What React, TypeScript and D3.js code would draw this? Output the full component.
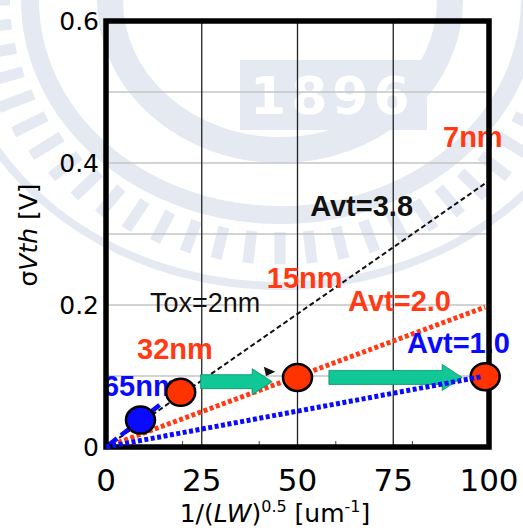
import React from 'react';
import * as d3 from 'd3';

// data
const nodeNames = ['65nm', '32nm', '15nm', '7nm'];
const nodeX = [9, 19.5, 50, 99];
const nodeY = [0.038, 0.077, 0.098, 0.099];

const avtNames = ['Avt=3.8', 'Avt=2.0', 'Avt=1.0'];
const avtEndX = [100, 99, 98];
const avtEndY = [0.375, 0.197, 0.099];

const xTicks = [0, 25, 50, 75, 100];
const xMinor = [20, 40, 60, 80];
const yTicks = [0, 0.2, 0.4, 0.6];
const yGrid = [0.1, 0.2, 0.3, 0.4, 0.5];

// annotations: [text, x, y] in data units (left edge, baseline)
const labels = [
  ['7nm', 88, 0.4225],
  ['Avt=3.8', 53.3, 0.325],
  ['15nm', 42, 0.224],
  ['Avt=2.0', 63.2, 0.1915],
  ['Avt=1.0', 78.6, 0.132],
  ['Tox=2nm', 11.5, 0.19],
  ['32nm', 8.1, 0.124],
  ['65nm', -0.8, 0.072],
];
// scaling arrows: [fromX, toX, y]
const arrows = [
  [24.7, 43.4, 0.092],
  [58.2, 93, 0.098],
];

const RED = '#ff3a14';
const BLUE = '#0a0aff';
const TEAL = '#10c896';
const WM = '#e4e9f2';

const labelColor: Record<string, string> = {
  '7nm': RED, '15nm': RED, '32nm': RED, 'Avt=2.0': RED,
  '65nm': BLUE, 'Avt=1.0': BLUE,
  'Avt=3.8': '#111', 'Tox=2nm': '#111',
};

const W = 523;
const H = 531;

const x = d3.scaleLinear().domain([0, 100]).range([106, 489]);
const y = d3.scaleLinear().domain([0, 0.6]).range([447, 21]);

// faint university emblem behind the chart
function Watermark() {
  const cx = 280, cy = 0, rx = 250, ry = 215;
  const spokes = d3.range(0, 360, 6);
  return (
    <g fill="none" stroke={WM}>
      <ellipse cx={cx} cy={cy} rx={170} ry={150} strokeWidth={26} />
      <ellipse cx={cx} cy={cy} rx={rx} ry={ry} strokeWidth={18} />
      <ellipse cx={cx} cy={cy} rx={rx * 1.33} ry={ry * 1.33} strokeWidth={8} />
      {spokes.map((a) => {
        const t = (a * Math.PI) / 180;
        return (
          <line key={a} x1={cx + rx * 1.08 * Math.cos(t)} y1={cy + ry * 1.08 * Math.sin(t)}
            x2={cx + rx * 1.23 * Math.cos(t)} y2={cy + ry * 1.23 * Math.sin(t)} strokeWidth={11} />
        );
      })}
      <rect x={240} y={60} width={187} height={70} fill={WM} stroke="none" />
      <text x={250} y={114} fill="#fff" stroke="none" fontFamily="DejaVu Sans" fontWeight="bold"
        fontSize={52} letterSpacing={5}>1896</text>
    </g>
  );
}

function Arrow({ x0, x1, yy }: { x0: number; x1: number; yy: number }) {
  const a = x(x0), b = x(x1), c = y(yy);
  const head = 20;
  const p = d3.path();
  p.moveTo(a, c - 7);
  p.lineTo(b - head, c - 7);
  p.lineTo(b - head, c - 13);
  p.lineTo(b, c);
  p.lineTo(b - head, c + 13);
  p.lineTo(b - head, c + 7);
  p.lineTo(a, c + 7);
  p.closePath();
  return <path d={p.toString()} fill={TEAL} stroke="#0a8a66" strokeWidth={0.8} />;
}

export default function App() {
  const tickFont = 'DejaVu Sans, Verdana, sans-serif';
  const labelFont = 'Liberation Sans, Arial, sans-serif';
  return (
    <svg width={W} height={H} style={{ position: 'absolute', left: 0, top: 0, background: '#fff' }}>
      <Watermark />

      {/* grid */}
      {yGrid.map((v) => (
        <line key={v} x1={x(0)} x2={x(100)} y1={y(v)} y2={y(v)} stroke="#c4c4c4" strokeWidth={1.5} />
      ))}
      {xTicks.slice(1, -1).map((v) => (
        <line key={v} x1={x(v)} x2={x(v)} y1={y(0)} y2={y(0.6)} stroke="#222" strokeWidth={1.3} />
      ))}
      {xMinor.map((v) => (
        <line key={v} x1={x(v)} x2={x(v)} y1={y(0)} y2={y(0) - 6} stroke="#444" strokeWidth={1} />
      ))}

      {/* Avt lines */}
      <line x1={x(0)} y1={y(0)} x2={x(avtEndX[1])} y2={y(avtEndY[1])} stroke={RED} strokeWidth={5} strokeDasharray="4 2.5" />
      <line x1={x(0)} y1={y(0)} x2={x(avtEndX[0])} y2={y(avtEndY[0])} stroke="#111" strokeWidth={2} strokeDasharray="5 3" />
      <line x1={x(0)} y1={y(0)} x2={x(nodeX[0] + 5)} y2={y(nodeY[0] * (nodeX[0] + 5) / nodeX[0])} stroke={BLUE} strokeWidth={4.5} strokeDasharray="14 5" />

      {/* labels */}
      {labels.map(([t, lx, ly]) => (
        <text key={t as string} x={x(lx as number)} y={y(ly as number)} fill={labelColor[t as string]}
          fontFamily={labelFont} fontWeight={t === 'Tox=2nm' ? 'normal' : 'bold'} fontSize={t === 'Tox=2nm' ? 27 : 29}>
          {t}
        </text>
      ))}

      {/* arrows */}
      {arrows.map(([a, b, c], i) => (
        <Arrow key={i} x0={a} x1={b} yy={c} />
      ))}
      <path d={`M${x(41.2)},${y(0.113)} L${x(44.2)},${y(0.106)} L${x(41.8)},${y(0.1)} Z`} fill="#111" />

      {/* frame */}
      <rect x={x(0)} y={y(0.6)} width={x(100) - x(0)} height={y(0) - y(0.6)} fill="none" stroke="#000" strokeWidth={5.5} />

      {/* nodes */}
      {nodeNames.map((n, i) => (
        <ellipse key={n} cx={x(nodeX[i])} cy={y(nodeY[i])} rx={14.5} ry={13.5}
          fill={i === 0 ? BLUE : '#ff3300'} stroke="#000" strokeWidth={2.5} />
      ))}

      <line x1={x(0)} y1={y(0)} x2={x(avtEndX[2])} y2={y(avtEndY[2])} stroke={BLUE} strokeWidth={5} strokeDasharray="4 2.5" />

      {/* tick labels */}
      {xTicks.map((v) => (
        <text key={v} x={x(v)} y={491} textAnchor="middle" fontFamily={tickFont} fontSize={31} fill="#000">{v}</text>
      ))}
      {yTicks.map((v) => (
        <text key={v} x={99} y={y(v)} dy="0.36em" textAnchor="end" fontFamily={tickFont} fontSize={25} fill="#000">
          {v === 0 ? '0' : d3.format('.1f')(v)}
        </text>
      ))}

      {/* axis titles */}
      <text x={275} y={522} textAnchor="middle" fontFamily={tickFont} fontSize={25} fill="#000">
        1/(<tspan fontStyle="italic">LW</tspan>)<tspan fontSize={16} dy={-10}>0.5</tspan>
        <tspan dy={10}> [um</tspan><tspan fontSize={16} dy={-10}>-1</tspan><tspan dy={10}>]</tspan>
      </text>
      <text transform="translate(37,235) rotate(-90)" textAnchor="middle" fontFamily={tickFont} fontSize={25} fill="#000">
        σ<tspan fontStyle="italic">Vth</tspan> [V]
      </text>
    </svg>
  );
}
